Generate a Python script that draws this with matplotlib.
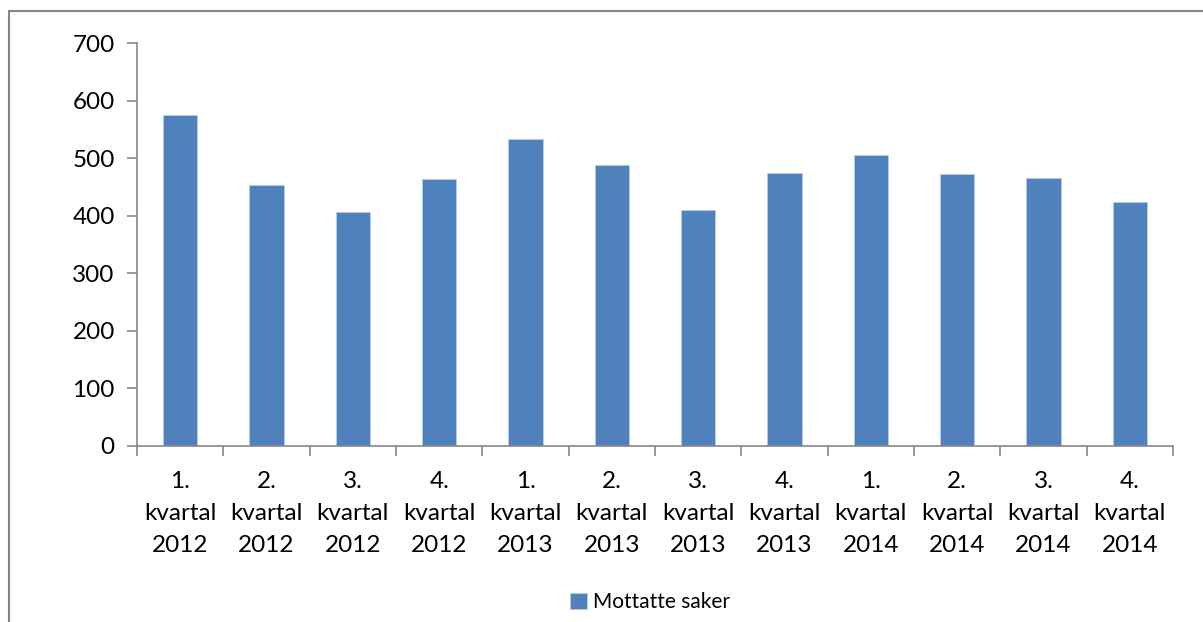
import matplotlib
matplotlib.use("Agg")
import matplotlib.pyplot as plt
from matplotlib.patches import Rectangle

categories = ["1.\nkvartal\n2012", "2.\nkvartal\n2012", "3.\nkvartal\n2012", "4.\nkvartal\n2012",
              "1.\nkvartal\n2013", "2.\nkvartal\n2013", "3.\nkvartal\n2013", "4.\nkvartal\n2013",
              "1.\nkvartal\n2014", "2.\nkvartal\n2014", "3.\nkvartal\n2014", "4.\nkvartal\n2014"]
values = [575, 453, 407, 464, 533, 488, 410, 474, 505, 472, 466, 424]
series_name = "Mottatte saker"
y_ticks = [0, 100, 200, 300, 400, 500, 600, 700]

plt.rcParams['font.family'] = ['Lato', 'DejaVu Sans']
W, H = 1203, 622
fig = plt.figure(figsize=(W/100, H/100), dpi=100)
fig.patch.set_facecolor("white")

# outer chart frame
fig.patches.append(Rectangle((9/W, -0.1), 1.2, (H-11)/H + 0.1, transform=fig.transFigure,
                             fill=False, edgecolor="#868686", linewidth=1.5))

ax = fig.add_axes([137/W, (H-446)/H, (1173-137)/W, (446-43)/H])
x = list(range(len(values)))
bars = ax.bar(x, values, width=0.4, color="#4F81BD", edgecolor="#B9CDE5", linewidth=0.6, label=series_name)

ax.set_xlim(-0.5, len(values) - 0.5)
ax.set_ylim(0, 700)
ax.set_yticks(y_ticks)
ax.set_yticklabels([str(v) for v in y_ticks], fontsize=17.5)

ax.set_xticks([i - 0.5 for i in range(len(values) + 1)])
ax.set_xticklabels([])
ax.set_xticks(x, minor=True)
ax.set_xticklabels(categories, minor=True, fontsize=17.5, linespacing=1.65)
ax.tick_params(axis="x", which="major", length=7, width=1.2, color="#868686", direction="out")
ax.tick_params(axis="x", which="minor", length=0, pad=18)
ax.tick_params(axis="y", length=7, width=1.2, color="#868686", direction="out", pad=9)

for s in ["top", "right"]:
    ax.spines[s].set_visible(False)
for s in ["left", "bottom"]:
    ax.spines[s].set_color("#868686")
    ax.spines[s].set_linewidth(1.2)

leg = fig.legend(handles=[bars], labels=[series_name], loc="center", bbox_to_anchor=(650/W, (H-602)/H),
                 frameon=False, fontsize=15, handlelength=0.8, handleheight=0.8, handletextpad=0.3)

fig.savefig("out.png", dpi=100, facecolor="white")
